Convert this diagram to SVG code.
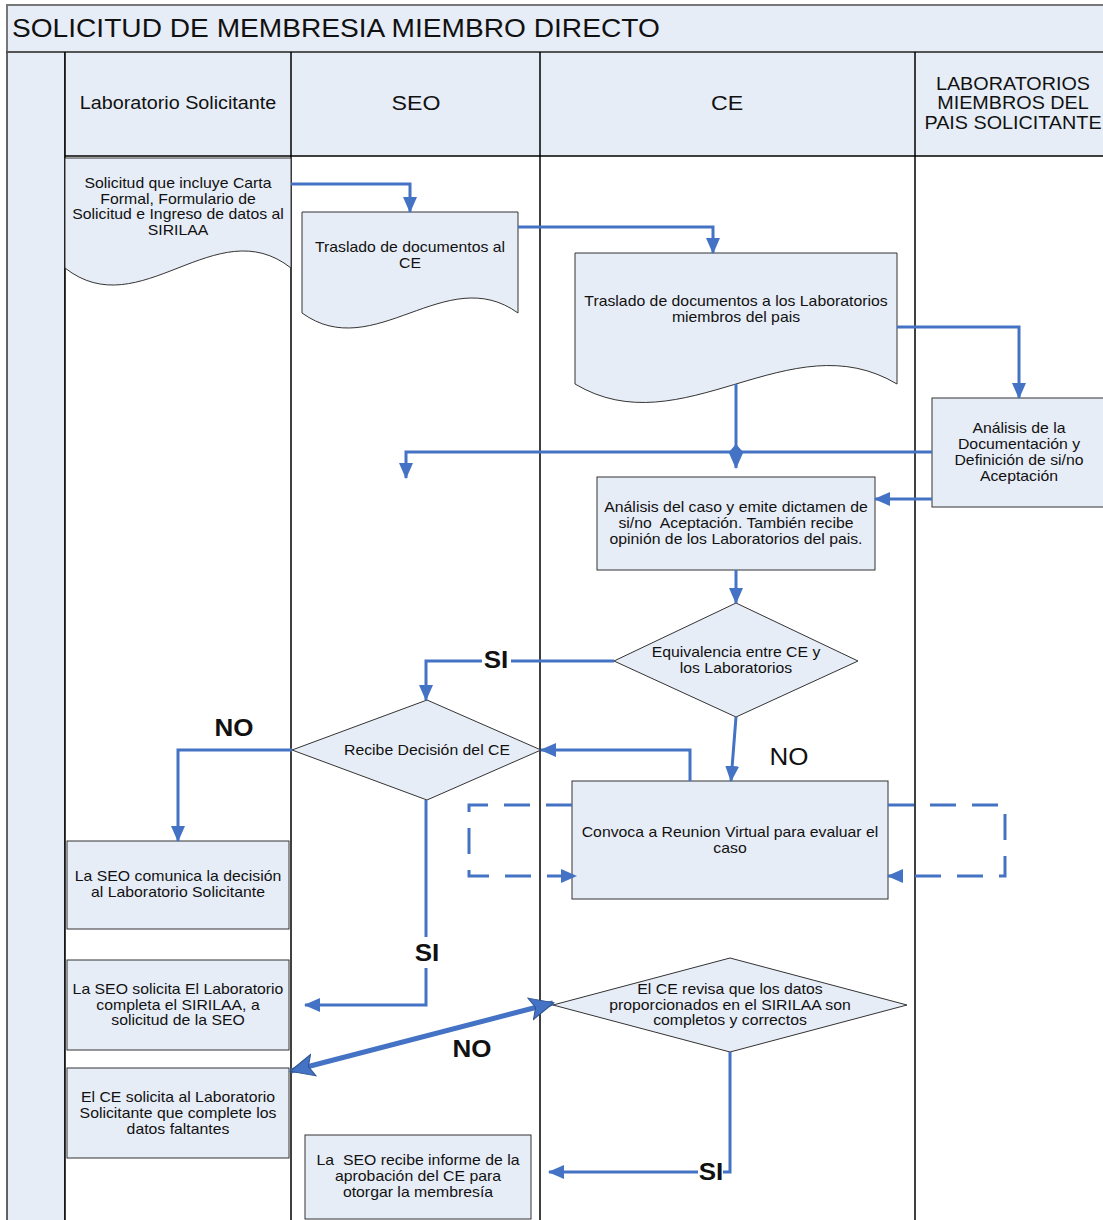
<svg xmlns="http://www.w3.org/2000/svg" width="1103" height="1220" viewBox="0 0 1103 1220">
<defs>
<style>
.t{font-family:"Liberation Sans",Arial,sans-serif;fill:#111;text-anchor:middle;white-space:pre}
.nt{font-size:14px}
.hd{font-size:17.5px}
.hb{font-size:20.5px}
.lb{font-size:23px;font-weight:bold}
.lr{font-size:23px}
.node{fill:#E7EDF7;stroke:#333;stroke-width:1}
.lane{stroke:#000;stroke-width:1.5;fill:none}
.c{fill:none;stroke:#4472C4;stroke-width:3}
.d{fill:none;stroke:#4472C4;stroke-width:3;stroke-dasharray:26 16}
</style>
<marker id="ah" markerUnits="userSpaceOnUse" markerWidth="16" markerHeight="16" viewBox="0 0 16 16" refX="15" refY="8" orient="auto">
<path d="M0,1 L16,8 L0,15 z" fill="#4472C4"/>
</marker>
<marker id="ahb" markerUnits="userSpaceOnUse" markerWidth="26" markerHeight="26" viewBox="0 0 26 26" refX="24" refY="13" orient="auto-start-reverse">
<path d="M1,2 L25,13 L1,24 L6,13 z" fill="#4472C4" stroke="#2F528F" stroke-width="1"/>
</marker>
</defs>

<g id="lanes">
<rect x="7" y="5" width="1100" height="47" fill="#E7EDF7" stroke="#777" stroke-width="2"/>
<g transform="translate(12,0) scale(1.13,1)"><text class="t" x="0" y="37" style="font-size:24.9px;text-anchor:start">SOLICITUD DE MEMBRESIA MIEMBRO DIRECTO</text></g>
<rect x="7" y="52" width="58" height="1170" fill="#E7EDF7" stroke="#333" stroke-width="1.5"/>
<rect x="65" y="52" width="1042" height="104" fill="#E7EDF7"/>
<rect x="65" y="156" width="1042" height="1066" fill="#fff"/>
<line x1="7" y1="52" x2="1103" y2="52" stroke="#555" stroke-width="2"/>
<line x1="65" y1="156" x2="1103" y2="156" class="lane"/>
<line x1="65" y1="52" x2="65" y2="1220" class="lane"/>
<line x1="291" y1="52" x2="291" y2="1220" class="lane"/>
<line x1="540" y1="52" x2="540" y2="1220" class="lane"/>
<line x1="915" y1="52" x2="915" y2="1220" class="lane"/>
<g transform="translate(178,0) scale(1.13,1)"><text class="t hd" x="0" y="109">Laboratorio Solicitante</text></g>
<g transform="translate(416,0) scale(1.13,1)"><text class="t hb" x="0" y="110">SEO</text></g>
<g transform="translate(727,0) scale(1.13,1)"><text class="t hb" x="0" y="110">CE</text></g>
<g transform="translate(1013,0) scale(1.13,1)">
<text class="t hd" x="0" y="90">LABORATORIOS</text>
<text class="t hd" x="0" y="109">MIEMBROS DEL</text>
<text class="t hd" x="0" y="129">PAIS SOLICITANTE</text>
</g>
</g>

<g id="n1">
<path class="node" d="M65,158 H291 V268 C216,209 140,327 65,268 Z"/>
<g transform="translate(178,0) scale(1.13,1)">
<text class="t nt" x="0" y="188">Solicitud que incluye Carta</text>
<text class="t nt" x="0" y="204">Formal, Formulario de</text>
<text class="t nt" x="0" y="219">Solicitud e Ingreso de datos al</text>
<text class="t nt" x="0" y="235">SIRILAA</text>
</g>
</g>

<g id="n2">
<path class="node" d="M302,212 H518 V313 C446,261 374,365 302,313 Z"/>
<g transform="translate(410,0) scale(1.13,1)">
<text class="t nt" x="0" y="252">Traslado de documentos al</text>
<text class="t nt" x="0" y="268">CE</text>
</g>
</g>

<g id="n3">
<path class="node" d="M575,253 H897 V384 C790,320 682,448 575,384 Z"/>
<g transform="translate(736,0) scale(1.13,1)">
<text class="t nt" x="0" y="306">Traslado de documentos a los Laboratorios</text>
<text class="t nt" x="0" y="322">miembros del pais</text>
</g>
</g>

<g id="n4">
<rect class="node" x="932" y="398" width="190" height="109"/>
<g transform="translate(1019,0) scale(1.13,1)">
<text class="t nt" x="0" y="433">Análisis de la</text>
<text class="t nt" x="0" y="449">Documentación y</text>
<text class="t nt" x="0" y="465">Definición de si/no</text>
<text class="t nt" x="0" y="481">Aceptación</text>
</g>
</g>

<g id="n5">
<rect class="node" x="597" y="477" width="278" height="93"/>
<g transform="translate(736,0) scale(1.13,1)">
<text class="t nt" x="0" y="512">Análisis del caso y emite dictamen de</text>
<text class="t nt" x="0" y="528">si/no  Aceptación. También recibe</text>
<text class="t nt" x="0" y="544">opinión de los Laboratorios del pais.</text>
</g>
</g>

<g id="n6">
<polygon class="node" points="736,603 858,661 736,717 614,661"/>
<g transform="translate(736,0) scale(1.13,1)">
<text class="t nt" x="0" y="657">Equivalencia entre CE y</text>
<text class="t nt" x="0" y="673">los Laboratorios</text>
</g>
</g>

<g id="n7">
<polygon class="node" points="427,700 541,750 427,800 292,750"/>
<g transform="translate(427,0) scale(1.13,1)">
<text class="t nt" x="0" y="755">Recibe Decisión del CE</text>
</g>
</g>

<g id="n8">
<rect class="node" x="572" y="781" width="316" height="118"/>
<g transform="translate(730,0) scale(1.13,1)">
<text class="t nt" x="0" y="837">Convoca a Reunion Virtual para evaluar el</text>
<text class="t nt" x="0" y="853">caso</text>
</g>
</g>

<g id="n9">
<rect class="node" x="67" y="841" width="222" height="88"/>
<g transform="translate(178,0) scale(1.13,1)">
<text class="t nt" x="0" y="881">La SEO comunica la decisión</text>
<text class="t nt" x="0" y="897">al Laboratorio Solicitante</text>
</g>
</g>

<g id="n10">
<rect class="node" x="67" y="960" width="222" height="90"/>
<g transform="translate(178,0) scale(1.13,1)">
<text class="t nt" x="0" y="994">La SEO solicita El Laboratorio</text>
<text class="t nt" x="0" y="1010">completa el SIRILAA, a</text>
<text class="t nt" x="0" y="1025">solicitud de la SEO</text>
</g>
</g>

<g id="n11">
<rect class="node" x="67" y="1068" width="222" height="90"/>
<g transform="translate(178,0) scale(1.13,1)">
<text class="t nt" x="0" y="1102">El CE solicita al Laboratorio</text>
<text class="t nt" x="0" y="1118">Solicitante que complete los</text>
<text class="t nt" x="0" y="1134">datos faltantes</text>
</g>
</g>

<g id="n12">
<rect class="node" x="305" y="1135" width="226" height="84"/>
<g transform="translate(418,0) scale(1.13,1)">
<text class="t nt" x="0" y="1165">La  SEO recibe informe de la</text>
<text class="t nt" x="0" y="1181">aprobación del CE para</text>
<text class="t nt" x="0" y="1197">otorgar la membresía</text>
</g>
</g>

<g id="n13">
<polygon class="node" points="730,958 907,1005 730,1052 553,1005"/>
<g transform="translate(730,0) scale(1.13,1)">
<text class="t nt" x="0" y="994">El CE revisa que los datos</text>
<text class="t nt" x="0" y="1010">proporcionados en el SIRILAA son</text>
<text class="t nt" x="0" y="1025">completos y correctos</text>
</g>
</g>

<g id="connectors">
<polyline class="c" points="291,184 410,184 410,212" marker-end="url(#ah)"/>
<polyline class="c" points="518,227 713,227 713,253" marker-end="url(#ah)"/>
<polyline class="c" points="897,327 1019,327 1019,398" marker-end="url(#ah)"/>
<polyline class="c" points="932,452 406,452 406,478" marker-end="url(#ah)"/>
<polyline class="c" points="736,384 736,468" marker-end="url(#ah)"/>
<polygon points="729,452 736,444 743,452" fill="#4472C4"/>
<polyline class="c" points="932,499 875,499" marker-end="url(#ah)"/>
<polyline class="c" points="736,570 736,603" marker-end="url(#ah)"/>
<polyline class="c" points="614,661 511,661"/>
<polyline class="c" points="482,661 426,661 426,700" marker-end="url(#ah)"/>
<polyline class="c" points="736,717 731,781" marker-end="url(#ah)"/>
<polyline class="c" points="690,781 690,750 541,750" marker-end="url(#ah)"/>
<polyline class="c" points="292,750 178,750 178,841" marker-end="url(#ah)"/>
<polyline class="c" points="426,800 426,937"/>
<polyline class="c" points="426,968 426,1005 305,1005" marker-end="url(#ah)"/>
<polyline class="d" points="572,805 469,805 469,876 576,876" marker-end="url(#ah)"/>
<polyline class="d" points="888,805 1005,805 1005,876 888,876" marker-end="url(#ah)"/>
<line x1="291" y1="1071" x2="553" y2="1003" stroke="#4472C4" stroke-width="5" marker-start="url(#ahb)" marker-end="url(#ahb)"/>
<polyline class="c" points="730,1052 730,1172 723,1172"/>
<polyline class="c" points="698,1172 549,1172" marker-end="url(#ah)"/>
</g>

<g id="labels">
<g transform="translate(496,0) scale(1.13,1)"><text class="t lb" x="0" y="668">SI</text></g>
<g transform="translate(234,0) scale(1.13,1)"><text class="t lb" x="0" y="736">NO</text></g>
<g transform="translate(789,0) scale(1.13,1)"><text class="t lr" x="0" y="765">NO</text></g>
<g transform="translate(427,0) scale(1.13,1)"><text class="t lb" x="0" y="961">SI</text></g>
<g transform="translate(472,0) scale(1.13,1)"><text class="t lb" x="0" y="1057">NO</text></g>
<g transform="translate(711,0) scale(1.13,1)"><text class="t lb" x="0" y="1180">SI</text></g>
</g>
</svg>
